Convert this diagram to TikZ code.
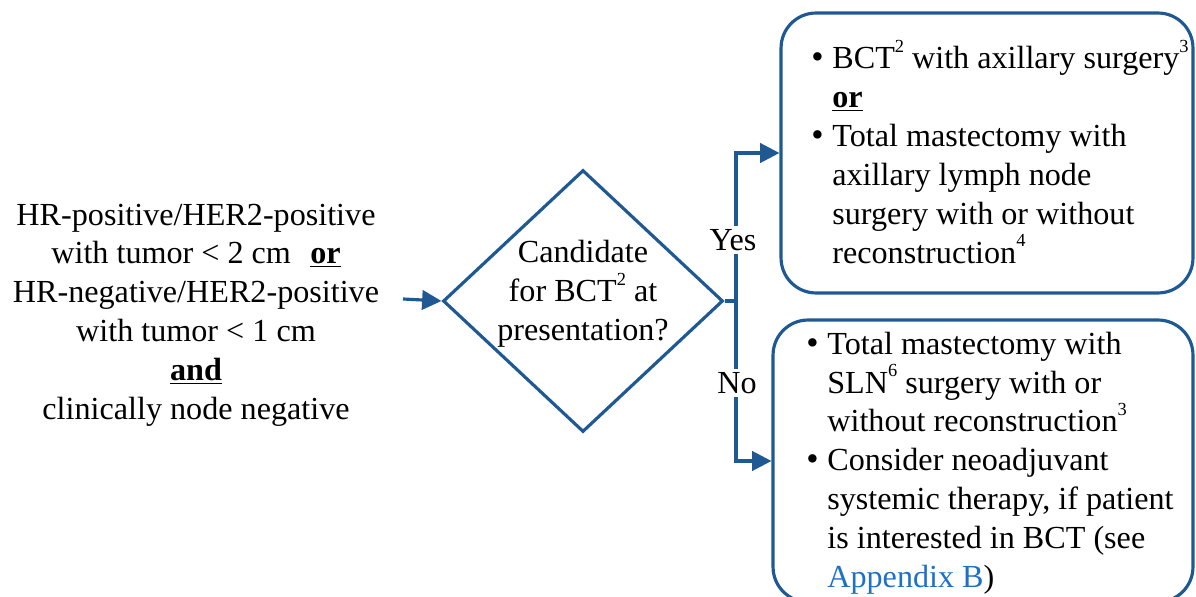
\documentclass[tikz,border=0pt]{standalone}
\usepackage{fontspec}
\setmainfont{Liberation Serif}
\newfontfamily\tnr{Liberation Serif}
\usetikzlibrary{shapes.geometric,arrows.meta}
\definecolor{nblue}{RGB}{31,89,148}
\definecolor{linkblue}{RGB}{30,112,200}
\newcommand\bul{\llap{{\fontsize{20}{20}\selectfont\textbullet}\hspace{5pt}}}
\newcommand\uor{\textbf{\underline{or}}}
\newcommand\supn[1]{\raisebox{0.5em}{\fontsize{10.5}{10.5}\selectfont #1}}
\begin{document}
\begin{tikzpicture}[x=0.02cm,y=-0.02cm,
  every node/.style={font=\tnr\fontsize{18.3}{22.1}\selectfont},
  line/.style={draw=nblue,line width=1.8pt},
  arr/.style={line,-{Triangle[length=11pt,width=11pt]}},
  box/.style={draw=nblue,line width=1.8pt,rounded corners=0.7cm,inner sep=0pt},
  lbl/.style={fill=white,inner sep=2pt},
  txt/.style={align=left,inner sep=0pt,anchor=west}]
\useasboundingbox (0,0) rectangle (1196,597);
\clip (0,0) rectangle (1196,597);

% left condition text
\node[align=center,inner sep=0pt] (cond) at (196,315) {HR-positive/HER2-positive\\
with tumor < 2 cm\hspace{0.6em}\uor\\
HR-negative/HER2-positive\\
with tumor < 1 cm\\
\textbf{\underline{and}}\\
clinically node negative};

% decision diamond
\node[diamond,draw=nblue,line width=1.8pt,minimum width=5.6cm,minimum height=5.24cm,inner sep=0pt] (dia) at (583,301) {};
\node[align=center,inner sep=0pt] (diatext) at (583,294) {Candidate\\for BCT\supn{2} at\\presentation?};

% boxes
\node[box,minimum width=8.24cm,minimum height=5.6cm] (yesbox) at (987,153) {};
\node[box,minimum width=8.4cm,minimum height=5.64cm] (nobox) at (983,461) {};

\node[txt] (yestext) at (832,152) {\bul BCT\supn{2} with axillary surgery\supn{3}\\
\uor\\
\bul Total mastectomy with\\
axillary lymph node\\
surgery with or without\\
reconstruction\supn{4}};

\node[txt] (notext) at (827,463) {\bul Total mastectomy with\\
SLN\supn{6} surgery with or\\
without reconstruction\supn{3}\\
\bul Consider neoadjuvant\\
systemic therapy, if patient\\
is interested in BCT (see\\
\textcolor{linkblue}{Appendix B})};

% connectors
\coordinate (start) at (403,299);
\coordinate (fork) at (736,301);
\draw[arr] (start) -- (dia.west);
\draw[line] (dia.east) -- (fork);
\draw[arr] (fork) |- (yesbox.west);
\draw[arr] (fork) |- (nobox.west);

\node[lbl] (yes) at (733,240) {Yes};
\node[lbl] (no) at (737,383) {No};
\end{tikzpicture}
\end{document}
